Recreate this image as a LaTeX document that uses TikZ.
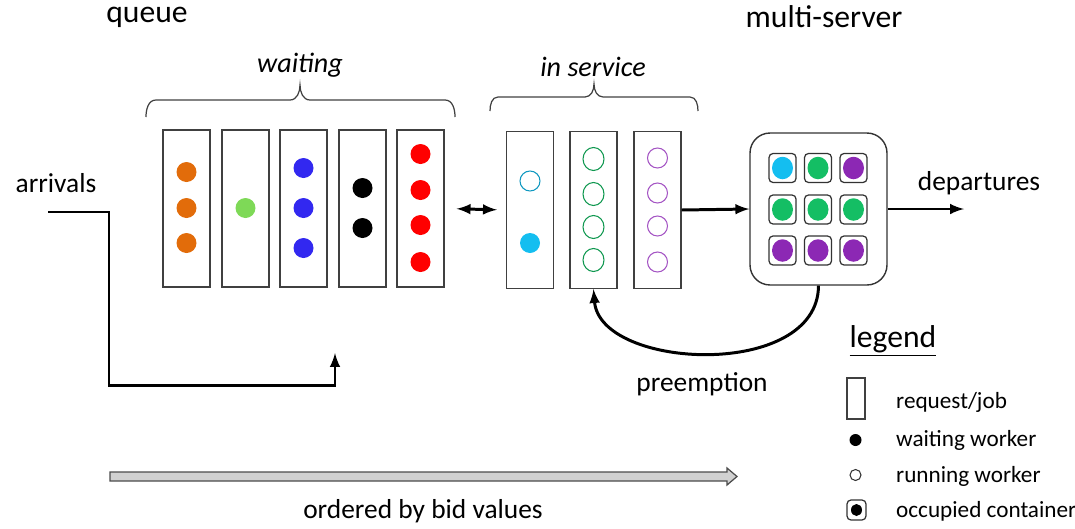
\documentclass[tikz,border=0pt]{standalone}
\usepackage{fontspec}
\setmainfont{Carlito}
\usepackage{tikz}
\usepackage{xcolor}
\usetikzlibrary{arrows}

\definecolor{orangew}{RGB}{226,108,10}
\definecolor{limew}{RGB}{126,217,87}
\definecolor{bluew}{RGB}{50,40,240}
\definecolor{redw}{RGB}{255,0,0}
\definecolor{cyanw}{RGB}{20,190,240}
\definecolor{greenw}{RGB}{20,190,100}
\definecolor{purplew}{RGB}{140,40,180}

\begin{document}
\begin{tikzpicture}[x=0.02cm,y=-0.02cm,
  job/.style={draw=black!75,line width=0.7pt,minimum width=0.94cm,minimum height=3.14cm,inner sep=0pt},
  cont/.style={draw=black!80,line width=0.7pt,rounded corners=0.08cm,minimum width=0.54cm,minimum height=0.58cm,inner sep=0pt},
  flow/.style={line width=1.7pt,-latex},
  brc/.style={draw=black!75,line width=0.7pt},
  titletxt/.style={font=\fontsize{18}{20}\selectfont},
  maintxt/.style={font=\fontsize{15.6}{18}\selectfont},
  legtxt/.style={font=\fontsize{13.2}{15}\selectfont,anchor=west}]
\useasboundingbox (0,0) rectangle (1075,528);

\node[titletxt] (queue) at (147,17) {queue};
\node[titletxt] (multi) at (824,17) {multi-server};

% waiting jobs
\node[job] (w1) at (186.5,208.5) {};
\node[job] (w2) at (245.5,208.5) {};
\node[job] (w3) at (303.5,208.5) {};
\node[job] (w4) at (362.5,208.5) {};
\node[job] (w5) at (420.5,208.5) {};
\foreach \y in {172,208,243} \fill[orangew] (186.5,\y) circle (0.2cm);
\fill[limew] (245.5,208) circle (0.2cm);
\foreach \y in {168,208,248} \fill[bluew] (303.5,\y) circle (0.2cm);
\foreach \y in {188,228} \fill[black] (362.5,\y) circle (0.2cm);
\foreach \y in {154,190,225,262} \fill[redw] (420.5,\y) circle (0.2cm);
\draw[brc] (146,117) to[out=90,in=180] (156,100) -- (290,100) to[out=0,in=-90] (300,85)
  to[out=-90,in=180] (310,100) -- (445,100) to[out=0,in=90] (455,117);
\node[font=\fontsize{16}{18}\selectfont\itshape] (waiting) at (300,65) {waiting};

% jobs in service
\node[job] (s1) at (530,210) {};
\node[job] (s2) at (593.5,210) {};
\node[job] (s3) at (657.5,210) {};
\draw[cyanw!80!black,line width=0.6pt] (530,181) circle (0.2cm);
\fill[cyanw] (530,243) circle (0.2cm);
\foreach \y in {159,194,227,260} \draw[greenw!80!black,line width=0.6pt] (593.5,\y) ellipse (0.21cm and 0.23cm);
\foreach \y in {158,193,226,262} \draw[purplew!80,line width=0.6pt] (657.5,\y) circle (0.2cm);
\draw[brc] (490,111) to[out=90,in=180] (498,97) -- (585,97) to[out=0,in=-90] (594,84)
  to[out=-90,in=180] (603,97) -- (690,97) to[out=0,in=90] (698,111);
\node[font=\fontsize{16}{18}\selectfont\itshape] (inservice) at (593,67) {in service};

\draw[line width=1.7pt,latex-latex,shorten <=0.24cm,shorten >=0.18cm] (w5.east) -- (s1.west);

% multi-server
\node[draw=black!80,line width=0.8pt,rounded corners=0.4cm,minimum width=2.74cm,minimum height=3.04cm] (server) at (818.5,209) {};
\node[cont] (c11) at (782.5,168) {};
\node[cont] (c12) at (818,168) {};
\node[cont] (c13) at (853.5,168) {};
\node[cont] (c21) at (782.5,209.5) {};
\node[cont] (c22) at (818,209.5) {};
\node[cont] (c23) at (853.5,209.5) {};
\node[cont] (c31) at (782.5,250.5) {};
\node[cont] (c32) at (818,250.5) {};
\node[cont] (c33) at (853.5,250.5) {};
\fill[cyanw] (c11) ellipse (0.21cm and 0.225cm);
\fill[greenw] (c12) ellipse (0.21cm and 0.225cm);
\fill[purplew] (c13) ellipse (0.21cm and 0.225cm);
\foreach \c in {c21,c22,c23} \fill[greenw] (\c) ellipse (0.21cm and 0.225cm);
\foreach \c in {c31,c32,c33} \fill[purplew] (\c) ellipse (0.21cm and 0.225cm);

\draw[flow] (s3.east) -- (server.west);
\coordinate (depart) at (964,209);
\draw[flow] (server.east) -- (depart);
\node[maintxt] (departures) at (979,183) {departures};

\draw[flow] (server.south) .. controls (818,380) and (600,370) .. (s2.south);
\node[maintxt] (preempt) at (702,384) {preemption};

% arrivals
\node[maintxt] (arrivals) at (56,183) {arrivals};
\coordinate (arrin) at (48,212);
\coordinate (arrout) at (335,353);
\draw[flow] (arrin) -- (109,212) |- (335,385) -- (arrout);

% order arrow
\draw[draw=black!70,fill=black!18,line width=0.7pt] (110,472) -- (727,472) -- (727,468) -- (737,476.5) -- (727,485) -- (727,481) -- (110,481) -- cycle;
\node[maintxt] (order) at (423,511) {ordered by bid values};

% legend
\node[titletxt] (legend) at (893,341) {\underline{legend}};
\node[draw=black!75,line width=0.7pt,minimum width=0.36cm,minimum height=0.82cm,inner sep=0pt] (lgjob) at (856,398.5) {};
\fill[black] (855.5,440) circle (0.12cm);
\draw[black!80,line width=0.6pt] (855.5,475) circle (0.11cm);
\node[cont,minimum width=0.38cm,minimum height=0.4cm] (lgcont) at (856.5,510) {};
\fill[black] (lgcont) ellipse (0.11cm and 0.12cm);
\node[legtxt] (t1) at (890,402) {request/job};
\node[legtxt] (t2) at (890,440) {waiting worker};
\node[legtxt] (t3) at (890,476) {running worker};
\node[legtxt] (t4) at (890,511) {occupied container};
\end{tikzpicture}
\end{document}
